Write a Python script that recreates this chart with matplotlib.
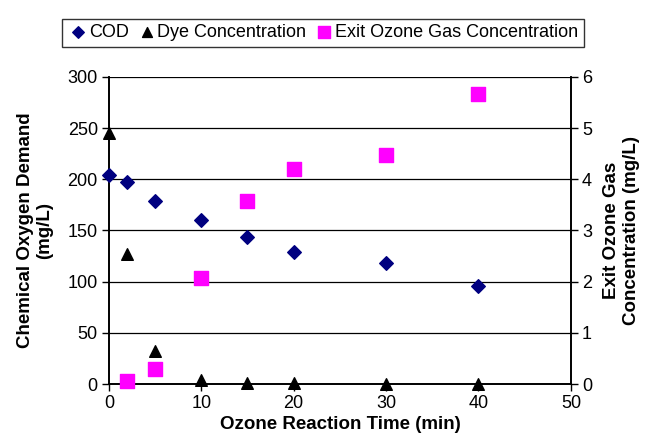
import matplotlib.pyplot as plt

plt.rcParams['font.family'] = ['Liberation Sans', 'DejaVu Sans']

# data
time_cod = [0, 2, 5, 10, 15, 20, 30, 40]
cod = [204, 197, 179, 160, 144, 129, 118, 96]

time_dye = [0, 2, 5, 10, 15, 20, 30, 40]
dye = [245, 127, 32, 4, 1, 1, 0, 0]

time_ozone = [2, 5, 10, 15, 20, 30, 40]
ozone = [0.06, 0.3, 2.07, 3.58, 4.2, 4.47, 5.67]

left_ticks = [0, 50, 100, 150, 200, 250, 300]
right_ticks = [0, 1, 2, 3, 4, 5, 6]
x_ticks = [0, 10, 20, 30, 40, 50]

fig = plt.figure(figsize=(6.48, 4.44), dpi=100)
ax = fig.add_axes([0.168, 0.135, 0.713, 0.692])
ax2 = ax.twinx()

ax.set_zorder(ax2.get_zorder() + 1)
ax.patch.set_visible(False)

for y in left_ticks[1:]:
    ax.axhline(y, color='black', linewidth=0.9, zorder=1)

h1 = ax.scatter(time_cod, cod, marker='D', s=48, color='#000080', label='COD',
                zorder=3, clip_on=False)
h2 = ax.scatter(time_dye, dye, marker='^', s=70, color='black', label='Dye Concentration',
                zorder=3, clip_on=False)
# ozone uses the right-hand scale (0-6 maps onto 0-300)
scale = left_ticks[-1] / right_ticks[-1]
h3 = ax.scatter(time_ozone, [v * scale for v in ozone], marker='s', s=90, color='#ff00ff',
                label='Exit Ozone Gas Concentration', zorder=3, clip_on=False)

ax.set_xlim(0, 50)
ax.set_ylim(0, 300)
ax2.set_ylim(0, 6)
ax.set_xticks(x_ticks)
ax.set_yticks(left_ticks)
ax2.set_yticks(right_ticks)

for a in (ax, ax2):
    a.tick_params(labelsize=13, direction='out', length=5, width=1, color='black', pad=3)
    a.spines['top'].set_visible(False)
    for s in a.spines.values():
        s.set_linewidth(1.2)

ax.set_xlabel('Ozone Reaction Time (min)', fontsize=13.5, fontweight='bold', labelpad=3)
ax.set_ylabel('Chemical Oxygen Demand\n(mg/L)', fontsize=13.5, fontweight='bold', labelpad=10)
ax2.set_ylabel('Exit Ozone Gas\nConcentration (mg/L)', fontsize=13.5, fontweight='bold',
               rotation=90, labelpad=8)

leg = fig.legend(handles=[h1, h2, h3], loc='upper center', bbox_to_anchor=(0.498, 0.978),
                 ncol=3, frameon=True, fancybox=False, edgecolor='black', fontsize=13,
                 handletextpad=0.0, columnspacing=0.4, borderpad=0.3, handlelength=1.2,
                 scatterpoints=1, markerscale=0.85)
leg.get_frame().set_linewidth(1.0)

fig.savefig('out.png', dpi=100)
